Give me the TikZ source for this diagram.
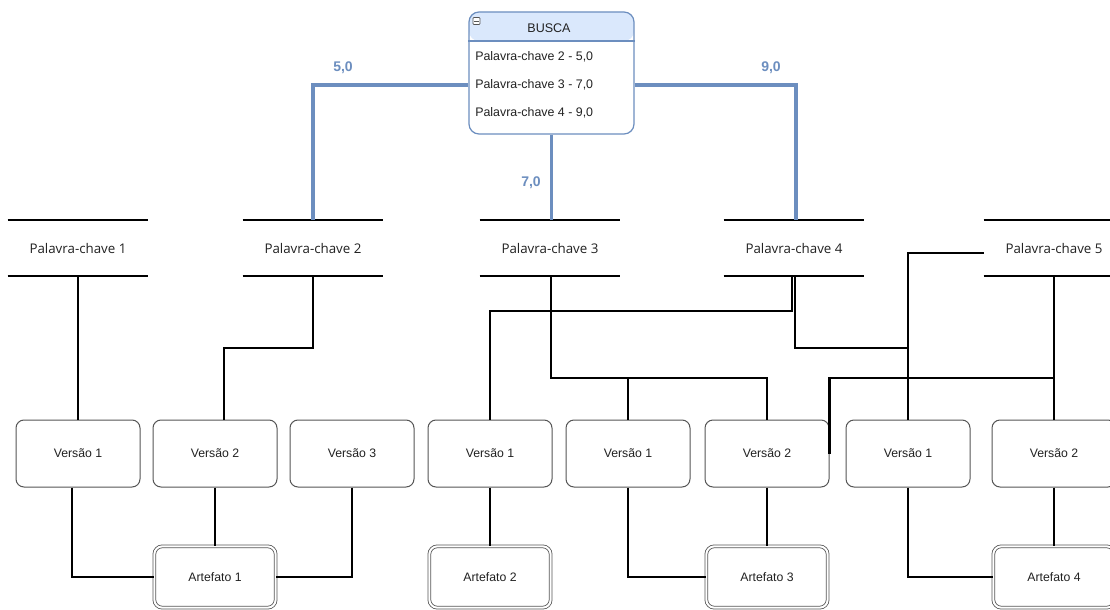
\documentclass[tikz,border=0pt]{standalone}
\usepackage{fontspec}
\setmainfont{Liberation Sans}
\newfontfamily\kwfont{Open Sans}
\definecolor{hdrblue}{HTML}{DAE8FC}
\definecolor{edgeblue}{HTML}{6C8EBF}
\definecolor{boxgray}{HTML}{555555}
\definecolor{txt}{HTML}{222222}
\begin{document}
\begin{tikzpicture}[x=0.75pt, y=-0.75pt,
  kw/.style={minimum width=105pt, minimum height=42pt, inner sep=0pt,
    font=\kwfont\fontsize{10pt}{12pt}\selectfont, text=txt},
  kwline/.style={line width=1.6pt, black},
  ver/.style={draw=boxgray, line width=0.75pt, rounded corners=6pt, fill=white,
    minimum width=93pt, minimum height=50.25pt, inner sep=0pt,
    font=\fontsize{9.2pt}{11pt}\selectfont, text=txt},
  art/.style={draw=boxgray, double, double distance=1.5pt, line width=0.6pt,
    rounded corners=6pt, fill=white, minimum width=91pt, minimum height=46pt,
    inner sep=0pt, font=\fontsize{9.2pt}{11pt}\selectfont, text=txt},
  row/.style={anchor=west, inner sep=0pt, font=\fontsize{9.3pt}{11pt}\selectfont, text=txt},
  conn/.style={line width=2.2pt, black},
  blueconn/.style={line width=2.4pt, edgeblue},
  wt/.style={inner sep=0pt, font=\bfseries\fontsize{10.5pt}{12pt}\selectfont, text=edgeblue}]

\clip (0,0) rectangle (1110,610);
\fill[white] (0,0) rectangle (1110,610);

% search table
\node[draw=edgeblue, line width=0.9pt, rounded corners=7.5pt, fill=white,
  minimum width=123.75pt, minimum height=91.5pt, inner sep=0pt,
  path picture={\fill[hdrblue] (path picture bounding box.north west)
    rectangle ([yshift=-21.75pt]path picture bounding box.north east);}]
  (busca) at (551.5,73) {};
\draw[edgeblue, line width=0.9pt] (busca.west |- 0,41) -- (busca.east |- 0,41);
\node[draw=boxgray, fill=white, line width=0.5pt, rounded corners=0.6pt,
  minimum size=5.25pt, inner sep=0pt] (tog) at (476.5,21) {};
\draw[boxgray, line width=0.7pt] ([xshift=1.1pt]tog.west) -- ([xshift=-1.1pt]tog.east);
\node[inner sep=0pt, font=\fontsize{9.4pt}{11pt}\selectfont, text=txt] (title) at (549,28) {BUSCA};
\node[row] (r1) at (475,57) {Palavra-chave 2 - 5,0};
\node[row] (r2) at (475,85) {Palavra-chave 3 - 7,0};
\node[row] (r3) at (475,113) {Palavra-chave 4 - 9,0};

% keywords
\node[kw] (k1) at (78,248) {Palavra-chave 1};
\node[kw] (k2) at (313,248) {Palavra-chave 2};
\node[kw] (k3) at (550,248) {Palavra-chave 3};
\node[kw] (k4) at (794,248) {Palavra-chave 4};
\node[kw] (k5) at (1054,248) {Palavra-chave 5};
\foreach \k in {k1,k2,k3,k4,k5} {
  \draw[kwline] (\k.north west) -- (\k.north east);
  \draw[kwline] (\k.south west) -- (\k.south east);
}

% versions
\node[ver] (v1) at (78,453.5) {Versão 1};
\node[ver] (v2) at (215,453.5) {Versão 2};
\node[ver] (v3) at (352,453.5) {Versão 3};
\node[ver] (v4) at (490,453.5) {Versão 1};
\node[ver] (v5) at (628,453.5) {Versão 1};
\node[ver] (v6) at (767,453.5) {Versão 2};
\node[ver] (v7) at (908,453.5) {Versão 1};
\node[ver] (v8) at (1054,453.5) {Versão 2};

% artifacts
\node[art] (a1) at (215,577) {Artefato 1};
\node[art] (a2) at (490,577) {Artefato 2};
\node[art] (a3) at (767,577) {Artefato 3};
\node[art] (a4) at (1054,577) {Artefato 4};

% weighted links from the search table
\draw[blueconn] (busca.west |- r2) -| (k2.north);
\draw[blueconn] (busca.east |- r2) -| ([xshift=1.5pt]k4.north);
\draw[blueconn] (busca.south) -- (busca.south |- k3.north);
\node[wt] (w5) at (343,68) {5,0};
\node[wt] (w9) at (771,68) {9,0};
\node[wt] (w7) at (531,183) {7,0};

% keyword to version links
\draw[conn] (k1.south) -- (v1.north);
\draw[conn] (k2.south) |- (224,348) -- (224,0 |- v2.north);
\draw[conn] (k3.south -| 551,0) |- (767,378) -- (v6.north);
\draw[conn] (v5.north) -- (v5.north |- 0,378);
\draw[conn] (k4.south -| 792,0) |- (490,311) -- (v4.north);
\draw[conn] (k4.south -| 795,0) |- (908,348);
\draw[conn] (k5.west |- 0,253) -| (v7.north);
\draw[conn] (k5.south) -- (v8.north);
\draw[conn] (k5.south |- 0,378) -| (v6.east);

% version to artifact links
\draw[conn] (v1.south -| 72,0) |- (a1.west);
\draw[conn] (v2.south) -- (a1.north);
\draw[conn] (v3.south) |- (a1.east);
\draw[conn] (v4.south) -- (a2.north);
\draw[conn] (v5.south) |- (a3.west);
\draw[conn] (v6.south) -- (a3.north);
\draw[conn] (v7.south) |- (a4.west);
\draw[conn] (v8.south) -- (a4.north);
\end{tikzpicture}
\end{document}
